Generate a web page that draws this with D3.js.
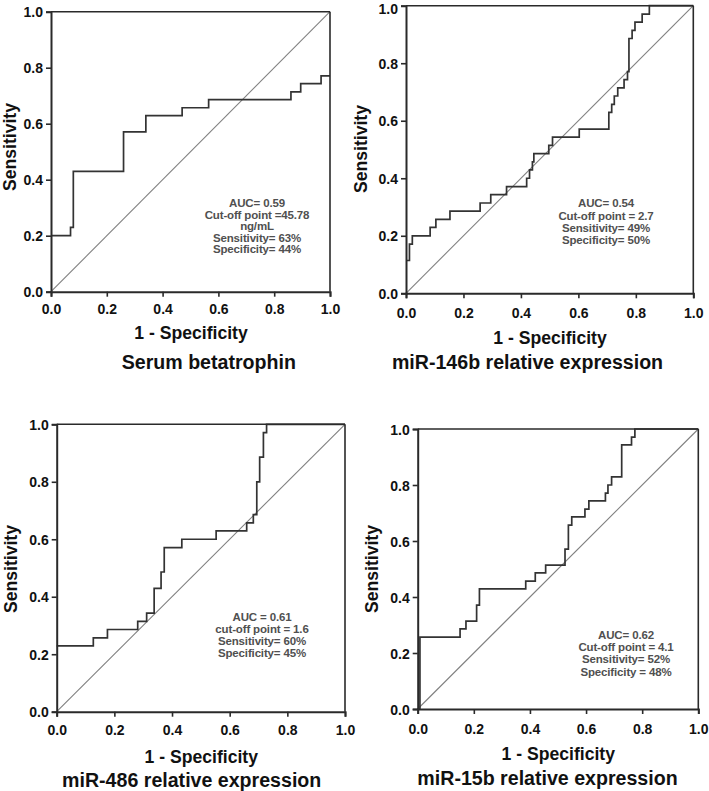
<!DOCTYPE html>
<html>
<head>
<meta charset="utf-8">
<script src="https://cdn.jsdelivr.net/npm/d3@7/dist/d3.min.js"></script>
<style>
  html, body { margin: 0; padding: 0; background: #fff; }
  svg { display: block; }
  text { font-family: "Liberation Sans", Arial, sans-serif; font-weight: bold; }
</style>
</head>
<body>
<svg id="chart" width="709" height="791"></svg>
<script>
// ---------- data ----------
const tickValues = [0, 0.2, 0.4, 0.6, 0.8, 1.0];
const tickLabels = ["0.0", "0.2", "0.4", "0.6", "0.8", "1.0"];
const xAxisLabel = "1 - Specificity";
const yAxisLabel = "Sensitivity";
const titles = ["Serum betatrophin", "miR-146b relative expression", "miR-486 relative expression", "miR-15b relative expression"];

// ROC step points (1 - specificity, sensitivity), drawn as step-after
const betatrophinFPR = [0, 0.07, 0.08, 0.26, 0.34, 0.47, 0.565, 0.86, 0.895, 0.968, 1.0];
const betatrophinTPR = [0.2, 0.23, 0.43, 0.571, 0.629, 0.657, 0.686, 0.714, 0.743, 0.771, 0.771];

const mir146bFPR = [0, 0.012, 0.022, 0.084, 0.104, 0.153, 0.258, 0.295, 0.35, 0.42, 0.43, 0.44, 0.445, 0.497, 0.51, 0.603, 0.706, 0.716, 0.725, 0.737, 0.759, 0.771, 0.776, 0.787, 0.797, 0.822, 0.847, 1.0];
const mir146bTPR = [0.114, 0.171, 0.2, 0.229, 0.257, 0.286, 0.314, 0.343, 0.371, 0.4, 0.429, 0.457, 0.486, 0.514, 0.543, 0.571, 0.629, 0.657, 0.686, 0.714, 0.743, 0.771, 0.886, 0.914, 0.943, 0.971, 1.0, 1.0];

const mir486FPR = [0, 0.127, 0.176, 0.281, 0.312, 0.338, 0.362, 0.373, 0.434, 0.553, 0.659, 0.682, 0.694, 0.704, 0.717, 0.728, 1.0];
const mir486TPR = [0.229, 0.257, 0.286, 0.314, 0.343, 0.429, 0.486, 0.571, 0.6, 0.629, 0.657, 0.686, 0.8, 0.886, 0.971, 1.0, 1.0];

const mir15bFPR = [0, 0.008, 0.151, 0.172, 0.21, 0.22, 0.385, 0.419, 0.456, 0.525, 0.537, 0.549, 0.596, 0.61, 0.669, 0.678, 0.691, 0.727, 0.762, 0.774, 1.0];
const mir15bTPR = [0, 0.257, 0.286, 0.314, 0.371, 0.429, 0.457, 0.486, 0.514, 0.571, 0.657, 0.686, 0.714, 0.743, 0.771, 0.8, 0.829, 0.943, 0.971, 1.0, 1.0];

const annotBetatrophin = ["AUC= 0.59", "Cut-off point =45.78", "ng/mL", "Sensitivity= 63%", "Specificity= 44%"];
const annotMir146b = ["AUC= 0.54", "Cut-off point = 2.7", "Sensitivity= 49%", "Specificity= 50%"];
const annotMir486 = ["AUC = 0.61", "cut-off point = 1.6", "Sensitivity= 60%", "Specificity= 45%"];
const annotMir15b = ["AUC= 0.62", "Cut-off point = 4.1", "Sensitivity= 52%", "Specificity = 48%"];

// ---------- layout ----------
const layout = [
  { x0: 51,    x1: 330,   yT: 11.7,  yB: 291.7, xl: [191, 333.3],   tl: [208.8, 361.7], yl: [9.5, 147],   an: [257, 203.3, 11.5], xtOff: 17 },
  { x0: 406,   x1: 693.3, yT: 5.7,   yB: 293.3, xl: [550, 338],     tl: [527.5, 361.7], yl: [361, 149],   an: [606, 203.3, 12.2], xtOff: 20 },
  { x0: 56.7,  x1: 345,   yT: 424.3, yB: 711.7, xl: [201.3, 756.7], tl: [191.7, 780],   yl: [10.5, 569],  an: [262, 616.7, 12.2], xtOff: 18.5 },
  { x0: 417.7, x1: 698.3, yT: 429,   yB: 709,   xl: [558.3, 754.3], tl: [547.5, 778.3], yl: [371.7, 569], an: [626, 635, 12.2], xtOff: 19.5 }
];

const series = [
  { fpr: betatrophinFPR, tpr: betatrophinTPR, annot: annotBetatrophin },
  { fpr: mir146bFPR, tpr: mir146bTPR, annot: annotMir146b },
  { fpr: mir486FPR, tpr: mir486TPR, annot: annotMir486 },
  { fpr: mir15bFPR, tpr: mir15bTPR, annot: annotMir15b }
];

const svg = d3.select("#chart");
const INK = "#2a2a2a";

series.forEach((s, i) => {
  const L = layout[i];
  const x = d3.scaleLinear().domain([0, 1]).range([L.x0, L.x1]);
  const y = d3.scaleLinear().domain([0, 1]).range([L.yB, L.yT]);
  const g = svg.append("g");

  // diagonal reference
  g.append("line")
    .attr("x1", x(0)).attr("y1", y(0)).attr("x2", x(1)).attr("y2", y(1))
    .attr("stroke", "#808080").attr("stroke-width", 1.1);

  // ROC curve
  const pts = s.fpr.map((f, k) => [f, s.tpr[k]]);
  const line = d3.line().x(d => x(d[0])).y(d => y(d[1])).curve(d3.curveStepAfter);
  g.append("path").datum(pts).attr("d", line)
    .attr("fill", "none").attr("stroke", "#333").attr("stroke-width", 1.7);

  // frame (top & right)
  g.append("line").attr("x1", x(0)).attr("x2", x(1)).attr("y1", y(1)).attr("y2", y(1))
    .attr("stroke", INK).attr("stroke-width", 1.6);
  g.append("line").attr("x1", x(1)).attr("x2", x(1)).attr("y1", y(0)).attr("y2", y(1))
    .attr("stroke", INK).attr("stroke-width", 1.6);

  // axes
  const xAxis = d3.axisBottom(x).tickValues(tickValues)
    .tickFormat((d, k) => tickLabels[k]).tickSizeOuter(0).tickSize(5).tickPadding(3);
  const yAxis = d3.axisLeft(y).tickValues(tickValues)
    .tickFormat((d, k) => tickLabels[k]).tickSizeOuter(0).tickSize(5).tickPadding(3);

  const gx = g.append("g").attr("transform", `translate(0,${y(0)})`).call(xAxis);
  const gy = g.append("g").attr("transform", `translate(${x(0)},0)`).call(yAxis);
  [gx, gy].forEach(ax => {
    ax.select(".domain").attr("stroke", INK).attr("stroke-width", 2);
    ax.selectAll(".tick line").attr("stroke", INK).attr("stroke-width", 1.6);
    ax.selectAll(".tick text").attr("fill", "#111")
      .style("font-size", "14px").style("font-weight", "bold")
      .style("font-family", "'Liberation Sans', Arial, sans-serif");
  });
  gx.selectAll(".tick text").attr("dy", null).attr("y", L.xtOff).attr("dominant-baseline", "central");
  gy.selectAll(".tick text").attr("dy", null).attr("dominant-baseline", "central")
    .attr("y", d => (y(d) < 8 ? 8 - y(d) : 0));

  // axis labels
  g.append("text").attr("x", L.xl[0]).attr("y", L.xl[1])
    .attr("text-anchor", "middle").attr("dominant-baseline", "central")
    .style("font-size", "17.6px").attr("fill", "#111").text(xAxisLabel);
  g.append("text")
    .attr("transform", `translate(${L.yl[0]},${L.yl[1]}) rotate(-90)`)
    .attr("text-anchor", "middle").attr("dominant-baseline", "central")
    .style("font-size", "17.6px").attr("fill", "#111").text(yAxisLabel);
  g.append("text").attr("x", L.tl[0]).attr("y", L.tl[1])
    .attr("text-anchor", "middle").attr("dominant-baseline", "central")
    .style("font-size", "19.6px").attr("fill", "#111").text(titles[i]);

  // annotation block
  g.selectAll("text.annot").data(s.annot).enter().append("text")
    .attr("class", "annot")
    .attr("x", L.an[0]).attr("y", (d, k) => L.an[1] + k * L.an[2])
    .attr("text-anchor", "middle").attr("dominant-baseline", "central")
    .style("font-size", "11.5px").style("letter-spacing", "-0.15px")
    .attr("fill", "#505050").text(d => d);
});
</script>
</body>
</html>
